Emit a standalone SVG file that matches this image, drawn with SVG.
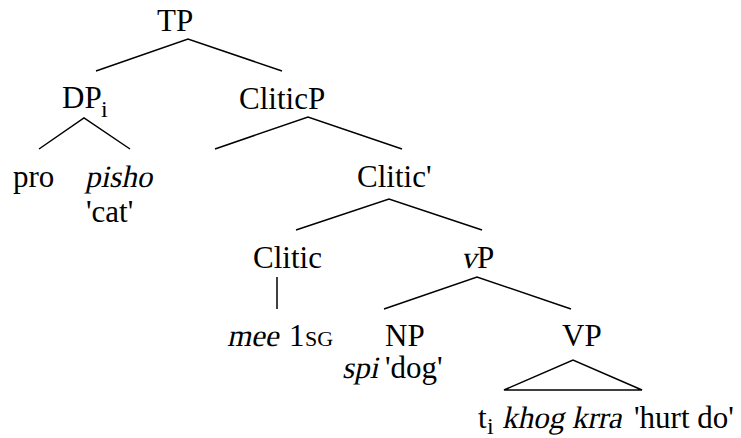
<svg xmlns="http://www.w3.org/2000/svg" width="741" height="438" viewBox="0 0 741 438">
  <style>
    text { font-family: "Liberation Serif", "Times New Roman", serif; font-size: 31px; fill: #000; }
    .sub { font-size: 24px; }
    .sc { font-size: 22px; }
    .edge { stroke: #000; stroke-width: 1.5; fill: none; }
  </style>
  <rect width="741" height="438" fill="#fff"/>

  <!-- branches -->
  <g id="connectors">
    <polyline class="edge" points="96,71 188,39 282,71"/>
    <polyline class="edge" points="39,149 84,118 130,149"/>
    <polyline class="edge" points="215,149 308,117 402,149"/>
    <polyline class="edge" points="296,230 389,199 482,230"/>
    <line class="edge" x1="277" y1="277" x2="277" y2="309"/>
    <polyline class="edge" points="384,309 477,277 571,309"/>
    <polygon class="edge" points="504,390 573,360 642,390"/>
  </g>

  <!-- slanted words are drawn as serif text skewed about their baseline -->
  <g id="TP"><text x="157" y="31">TP</text></g>
  <g id="DP"><text x="62" y="108">DP</text><text class="sub" x="101" y="117">i</text></g>
  <g id="CliticP"><text x="239" y="109">CliticP</text></g>
  <g id="pro"><text x="13" y="187">pro</text></g>
  <g id="pisho">
    <text transform="translate(85,187) skewX(-12)">pisho</text>
    <text x="86" y="222">'cat'</text>
  </g>
  <g id="CliticBar"><text x="357" y="187">Clitic'</text></g>
  <g id="Clitic"><text x="253" y="268">Clitic</text></g>
  <g id="vP">
    <text transform="translate(461,268) skewX(-12)">v</text>
    <text x="477" y="268">P</text>
  </g>
  <g id="mee">
    <text transform="translate(227,346) skewX(-12)">mee</text>
    <text x="289" y="346">1</text>
    <text class="sc" x="305" y="346">SG</text>
  </g>
  <g id="NP">
    <text x="385" y="346">NP</text>
    <text transform="translate(342,378) skewX(-12)">spi</text>
    <text x="385" y="378">'dog'</text>
  </g>
  <g id="VP">
    <text x="562" y="346">VP</text>
    <text x="478" y="428">t</text>
    <text class="sub" x="487" y="434">i</text>
    <text transform="translate(502,428) skewX(-12)">khog krra</text>
    <text x="634" y="428">'hurt do'</text>
  </g>
</svg>
